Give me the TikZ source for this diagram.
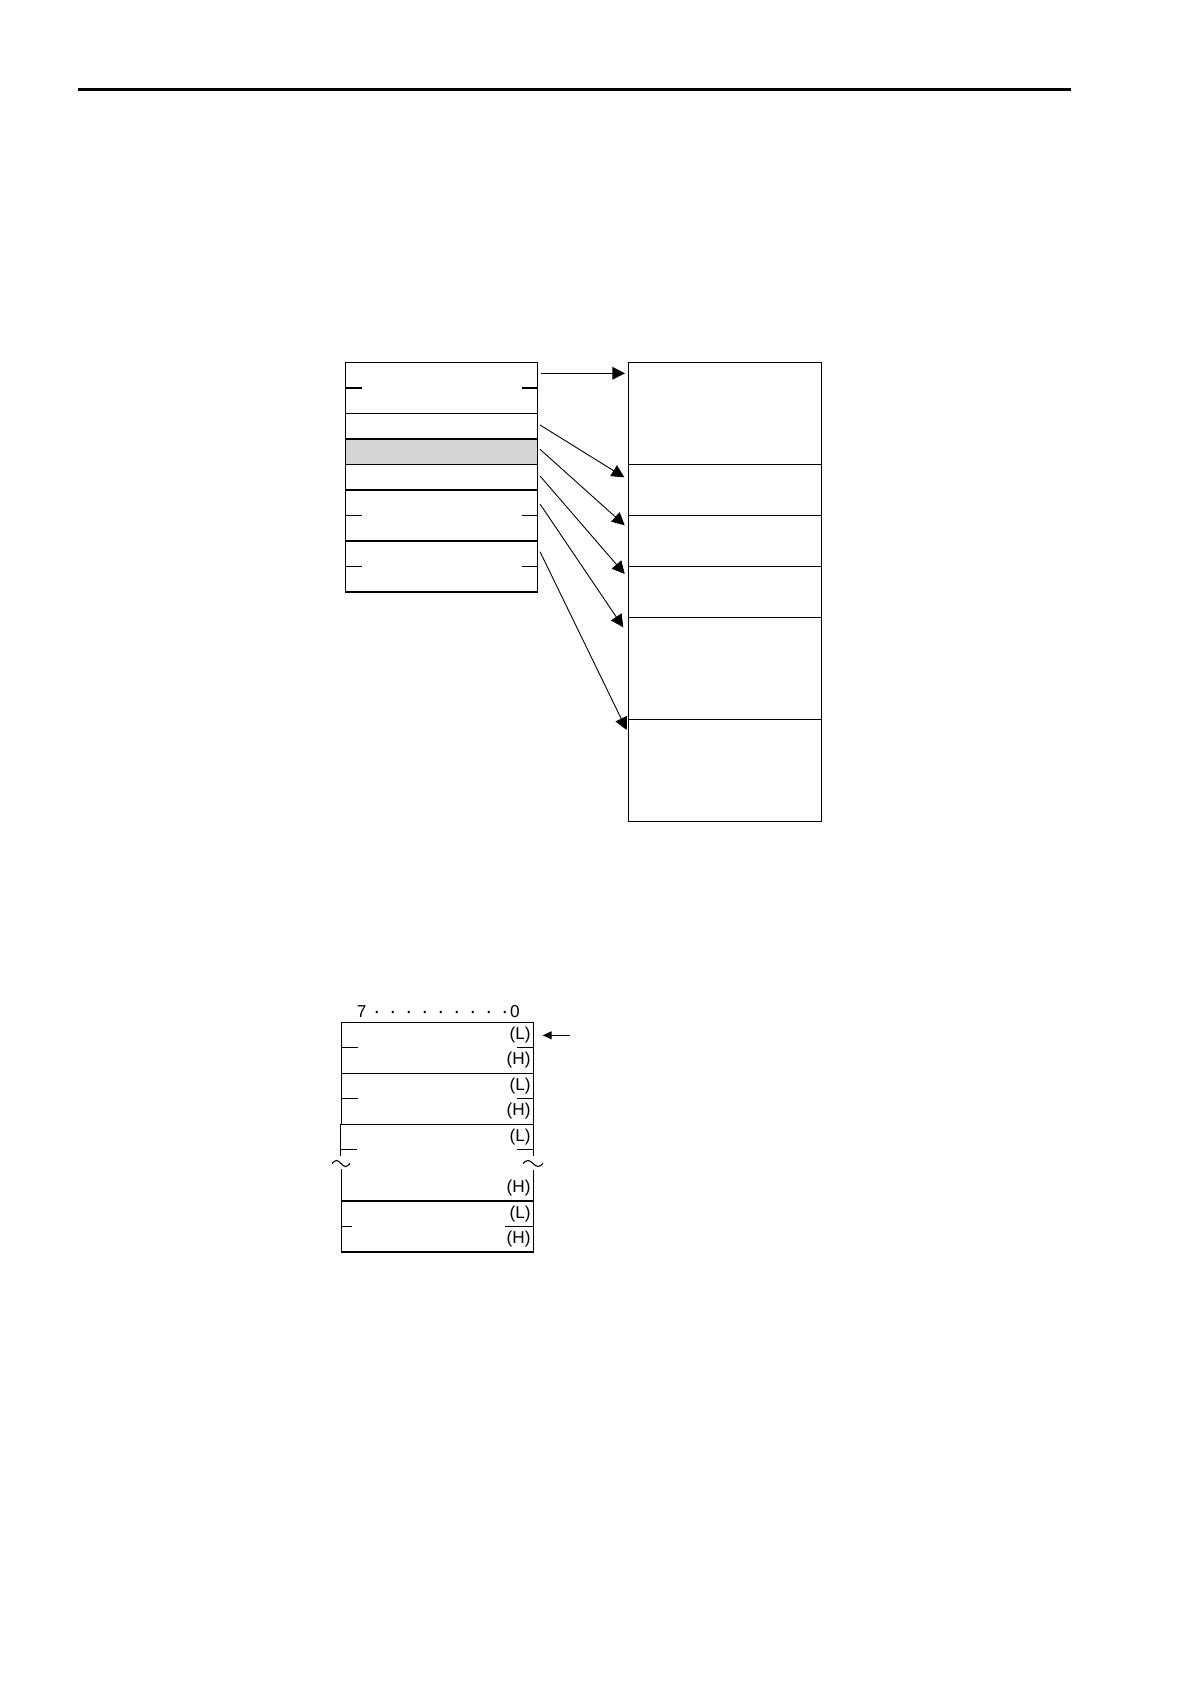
\documentclass[tikz,border=0pt]{standalone}
\usepackage{fontspec}
\setmainfont{Liberation Sans}
\usetikzlibrary{arrows.meta}
\definecolor{cellgray}{RGB}{212,214,215}
\begin{document}
\begin{tikzpicture}[x=0.5pt,y=-0.5pt,
  cell/.style={draw, line width=0.6pt, inner sep=0pt, outer sep=0pt, anchor=north west, minimum width=96pt},
  rcell/.style={cell, minimum width=96.5pt},
  half/.style={minimum height=12.75pt},
  dbl/.style={minimum height=25.5pt},
  quad/.style={minimum height=51pt},
  tick/.style={line width=0.6pt},
  ptr/.style={line width=0.45pt, -{Triangle[length=6.3pt,width=6.3pt]}},
  smallptr/.style={line width=0.5pt, -{Triangle[length=4.5pt,width=4pt]}},
  lab/.style={anchor=east, inner sep=0pt, font=\fontsize{8.6}{10}\selectfont},
  bitlab/.style={inner sep=0pt, font=\fontsize{8.6}{10}\selectfont}]
\useasboundingbox (0,0) rectangle (1190,1684);

% header rule
\coordinate (ruleL) at (78.3,89.5);
\coordinate (ruleR) at (1071,89.5);
\draw[line width=1.25pt] (ruleL) -- (ruleR);

% ---------- upper left box ----------
\node[cell,dbl]  (l1) at (345.5,362.5) {};
\node[cell,half] (l2) at (345.5,413.5) {};
\node[cell,half,fill=cellgray] (l3) at (345.5,439) {};
\node[cell,half] (l4) at (345.5,464.5) {};
\node[cell,dbl]  (l5) at (345.5,490) {};
\node[cell,dbl]  (l6) at (345.5,541) {};
\foreach \n in {l1,l5,l6}{
  \draw[tick] (\n.west) -- ++(16,0);
  \draw[tick] (\n.east) -- ++(-16,0);
}

% ---------- upper right box ----------
\node[rcell,quad] (r1) at (628.5,362.5) {};
\node[rcell,dbl]  (r2) at (628.5,464.5) {};
\node[rcell,dbl]  (r3) at (628.5,515.5) {};
\node[rcell,dbl]  (r4) at (628.5,566.5) {};
\node[rcell,quad] (r5) at (628.5,617.5) {};
\node[rcell,quad] (r6) at (628.5,719.5) {};

% arrow ends
\coordinate (s1) at (541,373.3);   \coordinate (e1) at (625,373.3);
\coordinate (s2) at (540,425);     \coordinate (e2) at (624.3,477.3);
\coordinate (s3) at (540,449.3);   \coordinate (e3) at (624.7,525.3);
\coordinate (s4) at (540,476);     \coordinate (e4) at (624.7,574);
\coordinate (s5) at (540,504);     \coordinate (e5) at (623.3,627.3);
\coordinate (s6) at (540,551.7);   \coordinate (e6) at (626.7,730);
\foreach \i in {1,...,6}{ \draw[ptr] (s\i) -- (e\i); }

% ---------- lower box ----------
\node[bitlab] (b7) at (361.7,1011.7) {7};
\node[bitlab] (b0) at (515,1011.7) {0};
\foreach \k in {0,...,8}{ \fill ({376.7+16*\k},1012) circle (1.4); }

\node[cell,dbl] (m1) at (341.3,1022.3) {};
\node[cell,dbl] (m2) at (341.3,1073.3) {};
\node[cell,dbl] (m5) at (341.3,1201) {};

% broken section
\coordinate (bl1) at (340.3,1124.3);
\coordinate (bl2) at (340.3,1155.5);
\coordinate (bl3) at (341.3,1169);
\coordinate (br1) at (533.3,1124.3);
\coordinate (br2) at (533.3,1155.7);
\coordinate (br3) at (533.3,1170);
\draw[tick] (bl1) -- (bl2);
\draw[tick] (bl3) -- (m5.north west);
\draw[tick] (br1) -- (br2);
\draw[tick] (br3) -- (m5.north east);
\draw[line width=0.55pt] (332,1163.5) sin (336.5,1160.5) cos (341,1163.5) sin (345.5,1166.5) cos (350,1163.5);
\draw[line width=0.55pt] (523,1163.5) sin (528,1160.5) cos (533,1163.5) sin (538,1166.5) cos (543,1163.5);

% ticks
\draw[tick] (m1.west) -- ++(16.4,0);
\draw[tick] (m1.east) -- ++(-16.3,0);
\draw[tick] (m2.west) -- ++(16.4,0);
\draw[tick] (m2.east) -- ++(-16.3,0);
\draw[tick] (340.3,1149.8) -- ++(17,0);
\draw[tick] (533.3,1149.8) -- ++(-16.3,0);
\draw[tick] (m5.west) -- ++(10.7,0);
\draw[tick] (m5.east) -- ++(-28.3,0);

% labels
\node[lab] (t1) at (531,1035) {(L)};
\node[lab] (t2) at (531,1060.5) {(H)};
\node[lab] (t3) at (531,1086) {(L)};
\node[lab] (t4) at (531,1111.5) {(H)};
\node[lab] (t5) at (531,1137) {(L)};
\node[lab] (t6) at (531,1188.5) {(H)};
\node[lab] (t7) at (531,1214) {(L)};
\node[lab] (t8) at (531,1239.5) {(H)};

% pointer arrow
\coordinate (pA) at (570,1035.3);
\coordinate (pB) at (542.7,1035.3);
\draw[smallptr] (pA) -- (pB);
\end{tikzpicture}
\end{document}
